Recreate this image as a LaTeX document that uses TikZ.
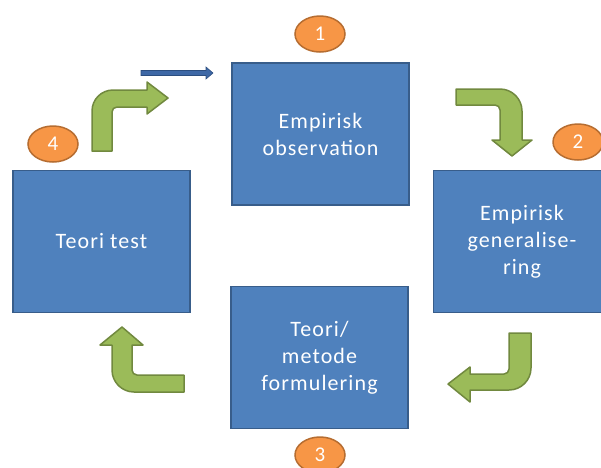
\documentclass[tikz,border=0pt]{standalone}
\usepackage{fontspec}
\setmainfont{Carlito}[LetterSpace=5]
\usetikzlibrary{shapes.geometric}

\definecolor{boxfill}{HTML}{4F81BD}
\definecolor{boxline}{HTML}{385D8A}
\definecolor{arrfill}{HTML}{9BBB59}
\definecolor{arrline}{HTML}{71893F}
\definecolor{numfill}{HTML}{F79646}
\definecolor{numline}{HTML}{B66D31}
\definecolor{pointerfill}{RGB}{62,104,166}
\definecolor{pointerline}{RGB}{44,78,128}

\tikzset{
  stagebox/.style={draw=boxline, line width=1.8pt, fill=boxfill, text=white,
    minimum width=177pt, minimum height=142pt, inner sep=0pt, align=center,
    font=\fontsize{22}{27}\selectfont},
  stepnum/.style={ellipse, draw=numline, line width=1.5pt, fill=numfill, text=white,
    minimum width=50pt, minimum height=36pt, inner sep=0pt,
    font=\fontsize{21}{24}\selectfont},
  bentarrow/.style={fill=arrfill, draw=arrline, line width=1.5pt, line join=round},
  pointer/.style={fill=pointerfill, draw=pointerline, line width=0.6pt, line join=miter}
}

\begin{document}
\begin{tikzpicture}[x=1pt,y=-1pt]
  \useasboundingbox (0,0) rectangle (601,467);
  \clip (0,0) rectangle (601,467);

  % the four stages of the cycle
  \node[stagebox] (obs)  at (320.5,134)  {Empirisk\\observation};
  \node[stagebox] (gen)  at (522,241.5)  {Empirisk\\generalise-\\ring};
  \node[stagebox] (form) at (319.5,357.5){Teori/\\metode\\formulering};
  \node[stagebox] (test) at (101.5,241.5){Teori test};

  % step numbers
  \node[stepnum] (n1) at (320,34)  {1};
  \node[stepnum] (n2) at (578,142) {2};
  \node[stepnum] (n3) at (320,455) {3};
  \node[stepnum] (n4) at (53,144)  {4};

  % bent arrow: up, then right (test -> observation)
  \draw[bentarrow] (92,151) -- (92,111)
    .. controls (92,99.4) and (101.4,90) .. (113,90)
    -- (147,90) -- (147,82) -- (168,98) -- (147,114) -- (147,107)
    -- (117,107) .. controls (114.2,107) and (112,109.2) .. (112,112)
    -- (112,151) -- cycle;

  % bent arrow: right, then down (observation -> generalisation)
  \draw[bentarrow] (456,89) -- (500,89)
    .. controls (512.1,89) and (522,98.9) .. (522,111)
    -- (522,140) -- (532,140) -- (512,156) -- (492,140) -- (500,140)
    -- (500,110) .. controls (500,107.2) and (497.8,105) .. (495,105)
    -- (456,105) -- cycle;

  % bent arrow: down, then left (generalisation -> formulation)
  \draw[bentarrow] (509,333) -- (531,333) -- (531,368)
    .. controls (531,380.1) and (521.1,390) .. (509,390)
    -- (470,390) -- (470,402) -- (448,384) -- (470,367) -- (470,374)
    -- (504,374) .. controls (506.8,374) and (509,371.8) .. (509,369)
    -- cycle;

  % bent arrow: left, then up (formulation -> test)
  \draw[bentarrow] (184,375) -- (137,375)
    .. controls (134.2,375) and (132,372.8) .. (132,370)
    -- (132,345) -- (143,345) -- (122,327) -- (100,345) -- (112,345)
    -- (112,370) .. controls (112,382.1) and (121.9,392) .. (134,392)
    -- (184,392) -- cycle;

  % thin pointer towards the first stage
  \draw[pointer] (141,70.5) -- (206,70.5) -- (206,67) -- (213,73)
    -- (206,79) -- (206,75.5) -- (141,75.5) -- cycle;
\end{tikzpicture}
\end{document}
